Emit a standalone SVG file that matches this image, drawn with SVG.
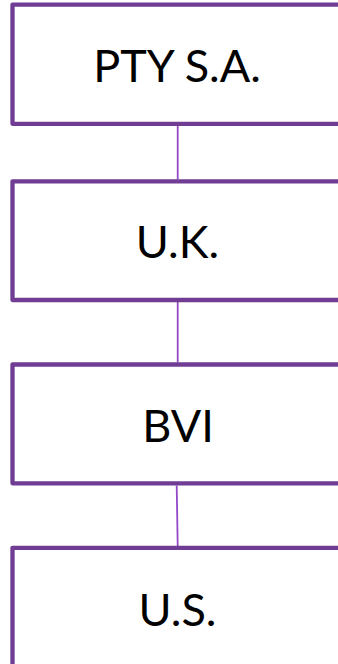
<svg xmlns="http://www.w3.org/2000/svg" width="338" height="664" viewBox="0 0 338 664">
<style>
.box{fill:#ffffff;stroke:#703C94;stroke-width:4.3;stroke-linejoin:round}
.lbl{font-family:Lato,"Liberation Sans",sans-serif;font-size:45px;fill:#000000;text-anchor:middle}
.conn{stroke:#9448C8;stroke-width:1.8;fill:none}
</style>
<rect width="338" height="664" fill="#ffffff"/>
<g id="connectors">
<line class="conn" x1="177.7" y1="126" x2="177.7" y2="179.5"/>
<line class="conn" x1="177.7" y1="302" x2="177.7" y2="362.5"/>
<line class="conn" x1="176.7" y1="485.5" x2="177.7" y2="546"/>
</g>
<g id="node-pty">
<rect class="box" x="12.5" y="4.7" width="360" height="119.1"/>
<text class="lbl" x="177" y="81.7">PTY S.A.</text>
</g>
<g id="node-uk">
<rect class="box" x="12.5" y="181.3" width="360" height="118.7"/>
<text class="lbl" x="177.5" y="258">U.K.</text>
</g>
<g id="node-bvi">
<rect class="box" x="12.5" y="364.5" width="360" height="118.8"/>
<text class="lbl" x="178" y="441.7">BVI</text>
</g>
<g id="node-us">
<rect class="box" x="12.5" y="547.8" width="360" height="140"/>
<text class="lbl" x="177.5" y="626">U.S.</text>
</g>
</svg>
